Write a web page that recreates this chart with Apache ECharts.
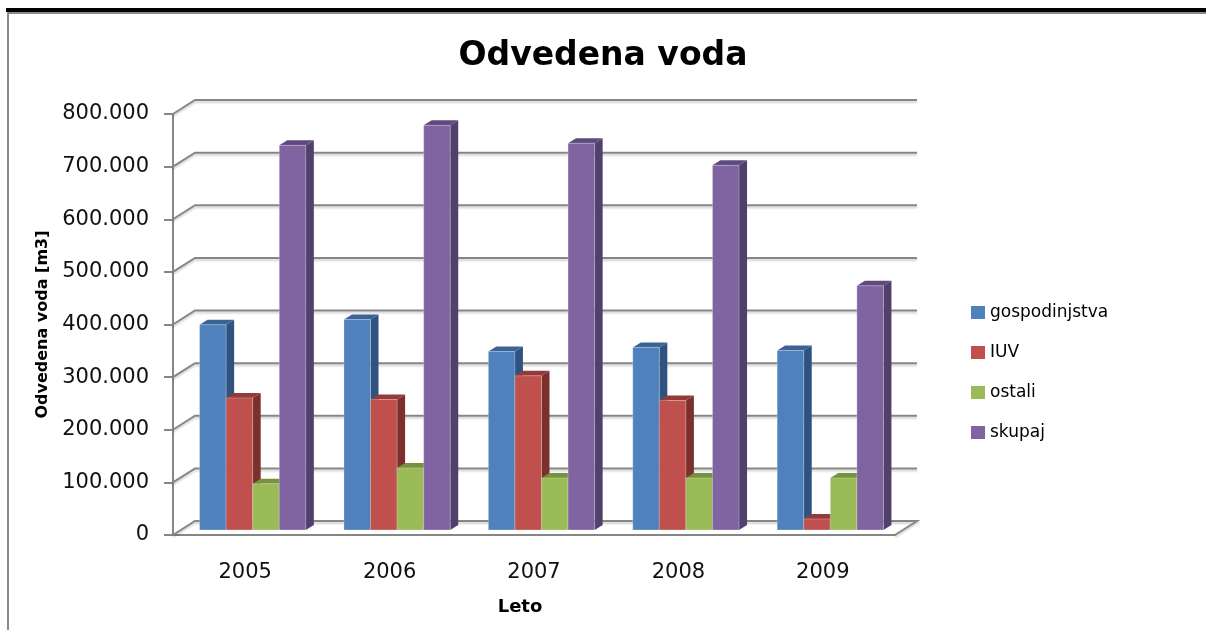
<!DOCTYPE html>
<html>
<head>
<meta charset="utf-8">
<title>Odvedena voda</title>
<script src="https://cdn.jsdelivr.net/npm/echarts@6/dist/echarts.min.js"></script>
<style>
  html, body { margin: 0; padding: 0; background: #fff; }
  #chart { width: 1206px; height: 630px; }
</style>
</head>
<body>
<div id="chart"></div>
<script>
// data (m3)
var years = ['2005', '2006', '2007', '2008', '2009'];
var seriesNames = ['gospodinjstva', 'IUV', 'ostali', 'skupaj'];
var gospodinjstva = [390000, 400000, 339000, 347000, 341000];
var iuv = [251000, 248000, 293000, 246000, 21000];
var ostali = [88000, 118000, 99000, 99000, 99000];
var skupaj = [731000, 769000, 735000, 693000, 464000];
var yTicks = [0, 100000, 200000, 300000, 400000, 500000, 600000, 700000, 800000];

var allValues = [gospodinjstva, iuv, ostali, skupaj];

// excel 2007 look
var frontColors = ['#4F81BD', '#C0504D', '#9BBB59', '#8064A2'];
var topColors   = ['#3B6394', '#923B38', '#76923C', '#5F4A7F'];
var sideColors  = ['#30527E', '#7B302E', '#65803A', '#513F6C'];

// depth of the floor (back wall offset) and of the bars
var wallDX = 22, wallDY = -14;
var barShiftX = 7.5, barShiftY = -5;
var barDX = 8, barDY = -5;
var gridGray = '#868686';

function fmt(v) {
  if (v === 0) return '0';
  return String(v).replace(/\B(?=(\d{3})+(?!\d))/g, '.');
}

function barRenderer(si) {
  return function (params, api) {
    var idx = api.value(0);
    var val = api.value(1);
    var base = api.coord([idx, 0]);
    var top = api.coord([idx, val]);
    var catW = api.size([1, 0])[0];
    var w = catW * 0.184;
    var x0 = base[0] - 2 * w + si * w + barShiftX;
    var yb = base[1] + barShiftY;
    var yt = top[1] + barShiftY;
    return {
      type: 'group',
      children: [
        {
          type: 'polygon',
          shape: { points: [[x0 + w, yt], [x0 + w + barDX, yt + barDY], [x0 + w + barDX, yb + barDY], [x0 + w, yb]] },
          style: { fill: sideColors[si] }
        },
        {
          type: 'polygon',
          shape: { points: [[x0, yt], [x0 + barDX, yt + barDY], [x0 + w + barDX, yt + barDY], [x0 + w, yt]] },
          style: { fill: topColors[si] }
        },
        {
          type: 'rect',
          shape: { x: x0, y: yt, width: w, height: yb - yt },
          style: { fill: frontColors[si], stroke: 'rgba(255,255,255,0.25)', lineWidth: 1 }
        }
      ]
    };
  };
}

function wallRenderer(params, api) {
  var v = api.value(0);
  var cs = params.coordSys;
  var y = api.coord([0, v])[1];
  var x = cs.x;
  var xr = cs.x + cs.width;
  var pts;
  if (v === 0) {
    pts = [[x, y], [x + wallDX, y + wallDY], [xr + wallDX, y + wallDY], [xr, y]];
  } else {
    pts = [[x, y], [x + wallDX, y + wallDY], [xr + wallDX, y + wallDY]];
  }
  return {
    type: 'polyline',
    shape: { points: pts },
    style: {
      stroke: gridGray, lineWidth: 2, fill: null,
      shadowColor: 'rgba(0,0,0,0.18)', shadowOffsetY: 2, shadowBlur: 2
    }
  };
}

var series = [{
  name: 'wall',
  type: 'custom',
  renderItem: wallRenderer,
  data: yTicks.map(function (t) { return [t]; }),
  encode: { y: 0 },
  silent: true,
  z: 1
}];

seriesNames.forEach(function (name, si) {
  series.push({
    name: name,
    type: 'custom',
    renderItem: barRenderer(si),
    itemStyle: { color: frontColors[si] },
    data: allValues[si].map(function (v, i) { return [i, v]; }),
    encode: { x: 0, y: 1 },
    z: 2
  });
});

var chart = echarts.init(document.getElementById('chart'));
chart.setOption({
  animation: false,
  backgroundColor: '#fff',
  textStyle: { fontFamily: 'DejaVu Sans' },
  title: {
    text: 'Odvedena voda',
    left: 'center',
    top: 35,
    textStyle: { fontFamily: 'DejaVu Sans', fontWeight: 'bold', fontSize: 33, color: '#000' }
  },
  legend: {
    data: seriesNames,
    orient: 'vertical',
    left: 966,
    top: 299,
    icon: 'rect',
    itemWidth: 14,
    itemHeight: 13,
    itemGap: 23,
    textStyle: { fontFamily: 'DejaVu Sans', fontSize: 17, color: '#000' }
  },
  grid: { left: 173, right: 311, top: 114, bottom: 95 },
  xAxis: {
    type: 'category',
    data: years,
    boundaryGap: true,
    axisLine: { show: true, lineStyle: { color: gridGray, width: 2 } },
    axisTick: { show: false },
    axisLabel: { margin: 27, fontFamily: 'DejaVu Sans', fontSize: 21, color: '#111' },
    name: 'Leto',
    nameLocation: 'middle',
    nameGap: 63,
    nameTextStyle: { fontFamily: 'DejaVu Sans', fontWeight: 'bold', fontSize: 18, color: '#000', padding: [0, 28, 0, 0] }
  },
  yAxis: {
    type: 'value',
    min: 0,
    max: 800000,
    interval: 100000,
    axisLine: { show: true, lineStyle: { color: gridGray, width: 2 } },
    axisTick: { show: true, length: 9, lineStyle: { color: gridGray, width: 2 } },
    splitLine: { show: false },
    axisLabel: { margin: 24, fontFamily: 'DejaVu Sans', fontSize: 21, color: '#111', formatter: fmt },
    name: 'Odvedena voda [m3]',
    nameLocation: 'middle',
    nameGap: 122,
    nameTextStyle: { fontFamily: 'DejaVu Sans', fontWeight: 'bold', fontSize: 16, color: '#000' }
  },
  graphic: [
    { type: 'rect', shape: { x: 6, y: 8, width: 1200, height: 4 }, style: { fill: '#000' } },
    { type: 'rect', shape: { x: 8, y: 12, width: 1198, height: 2 }, style: { fill: '#8a8a8a' } },
    { type: 'rect', shape: { x: 7, y: 12, width: 2, height: 618 }, style: { fill: '#8a8a8a' } }
  ],
  series: series
});
</script>
</body>
</html>
